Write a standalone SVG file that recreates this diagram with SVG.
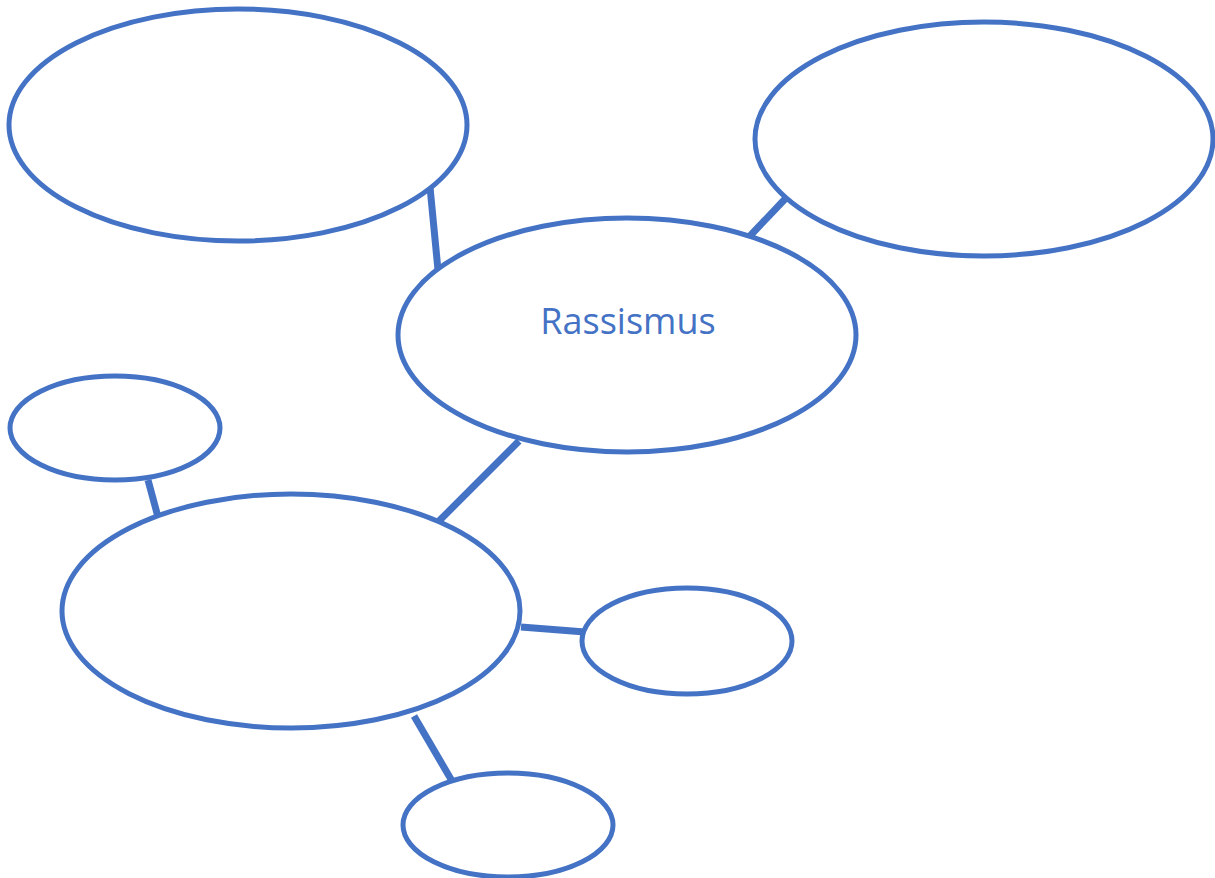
<svg xmlns="http://www.w3.org/2000/svg" width="1215" height="878" viewBox="0 0 1215 878">
<style>
.n{fill:#fff;stroke:#4472C4;stroke-width:5}
.c{stroke:#4472C4;stroke-width:7;fill:none}
.t{font-family:"Open Sans","Noto Sans",sans-serif;font-size:36px;fill:#4472C4;text-anchor:middle}
</style>
<rect width="1215" height="878" fill="#fff"/>
<g id="connectors">
<line class="c" x1="430" y1="187" x2="438" y2="270"/>
<line class="c" x1="786" y1="198" x2="748" y2="238"/>
<line class="c" x1="519" y1="441" x2="438" y2="522"/>
<line class="c" x1="148" y1="480" x2="158" y2="517"/>
<line class="c" x1="521" y1="627" x2="585" y2="632"/>
<line class="c" x1="414" y1="716" x2="452" y2="781"/>
</g>
<g id="node-topleft"><ellipse class="n" cx="238" cy="125" rx="229" ry="116"/></g>
<g id="node-topright"><ellipse class="n" cx="984" cy="139" rx="229" ry="117"/></g>
<g id="node-center"><ellipse class="n" cx="627" cy="335" rx="229" ry="117"/><text class="t" x="628" y="334">Rassismus</text></g>
<g id="node-smallleft"><ellipse class="n" cx="115" cy="428" rx="105" ry="52"/></g>
<g id="node-bottomleft"><ellipse class="n" cx="291" cy="611" rx="229" ry="117"/></g>
<g id="node-smallright"><ellipse class="n" cx="687" cy="641" rx="105" ry="53"/></g>
<g id="node-bottom"><ellipse class="n" cx="508" cy="825" rx="105" ry="52"/></g>
</svg>
